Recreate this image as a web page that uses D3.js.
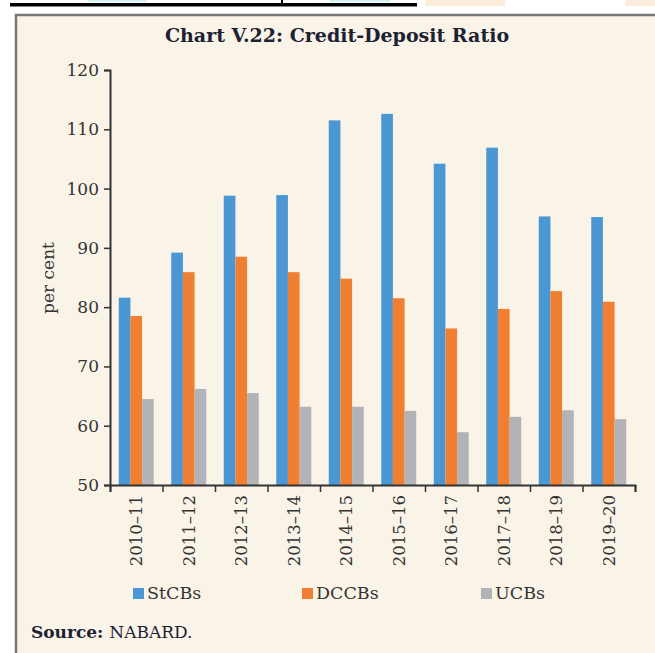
<!DOCTYPE html>
<html>
<head>
<meta charset="utf-8">
<script src="https://cdn.jsdelivr.net/npm/d3@7"></script>
<style>
  body { margin: 0; background: #fff; }
  svg { display: block; }
  text { font-family: "DejaVu Serif", serif; }
</style>
</head>
<body>
<svg width="655" height="653"></svg>
<script>
const years = ['2010-11', '2011-12', '2012-13', '2013-14', '2014-15', '2015-16', '2016-17', '2017-18', '2018-19', '2019-20'];
const stcbs = [81.6, 89.2, 98.8, 98.9, 111.5, 112.6, 104.2, 106.9, 95.3, 95.2];
const dccbs = [78.5, 85.9, 88.5, 85.9, 84.8, 81.5, 76.4, 79.7, 82.7, 80.9];
const ucbs = [64.5, 66.2, 65.5, 63.2, 63.2, 62.5, 58.9, 61.5, 62.6, 61.1];
const seriesNames = ['StCBs', 'DCCBs', 'UCBs'];
const colors = ['#4b97d3', '#f07f31', '#b2b3b7'];
const yTicks = [50, 60, 70, 80, 90, 100, 110, 120];

const svg = d3.select("svg");

// bits of the page above the chart panel
svg.append("rect").attr("x", 10).attr("y", 3).attr("width", 407).attr("height", 3.5).attr("fill", "#000");
svg.append("rect").attr("x", 281).attr("y", 0).attr("width", 2).attr("height", 5).attr("fill", "#000");
svg.append("rect").attr("x", 88).attr("y", 0).attr("width", 59).attr("height", 2).attr("fill", "#d4f3f5");
svg.append("rect").attr("x", 330).attr("y", 0).attr("width", 60).attr("height", 2).attr("fill", "#d4f3f5");
svg.append("rect").attr("x", 425).attr("y", 0).attr("width", 80).attr("height", 6).attr("fill", "#fdebdc");
svg.append("rect").attr("x", 625).attr("y", 0).attr("width", 40).attr("height", 6).attr("fill", "#fdebdc");

// panel
svg.append("rect")
  .attr("x", 16).attr("y", 15).attr("width", 660).attr("height", 660)
  .attr("fill", "#faf3e8").attr("stroke", "#777").attr("stroke-width", 2.5);

svg.append("text")
  .attr("x", 337).attr("y", 42)
  .attr("text-anchor", "middle")
  .attr("font-size", 19).attr("font-weight", "bold").attr("fill", "#1d2233")
  .text("Chart V.22: Credit-Deposit Ratio");

const yScale = d3.scaleLinear().domain([50, 120]).range([485, 70]);
const xScale = d3.scaleBand().domain(years).range([110, 635]);
const xInner = d3.scaleBand().domain(seriesNames).range([0, 35]);
const groupOffset = (xScale.bandwidth() - 35) / 2;

const table = years.map((y, i) => ({ year: y, StCBs: stcbs[i], DCCBs: dccbs[i], UCBs: ucbs[i] }));

svg.append("g")
  .selectAll("g")
  .data(table)
  .join("g")
  .attr("transform", d => `translate(${xScale(d.year) + groupOffset},0)`)
  .selectAll("rect")
  .data(d => seriesNames.map((k, j) => ({ key: k, value: d[k], j: j })))
  .join("rect")
  .attr("x", d => xInner(d.key))
  .attr("width", xInner.bandwidth())
  .attr("y", d => yScale(d.value))
  .attr("height", d => yScale(50) - yScale(d.value))
  .attr("fill", d => colors[d.j]);

// y axis
const yAxis = svg.append("g")
  .attr("transform", "translate(110,0)")
  .call(d3.axisLeft(yScale).tickValues(yTicks).tickSize(6).tickPadding(5));
yAxis.select(".domain").attr("stroke", "#333").attr("stroke-width", 2);
yAxis.selectAll(".tick line").attr("stroke", "#333").attr("stroke-width", 1.5);
yAxis.selectAll(".tick text").attr("font-family", "DejaVu Serif").attr("font-size", 17).attr("fill", "#333");

// x axis: ticks at band edges, labels at band centres
const edgeScale = d3.scaleLinear().domain([0, years.length]).range(xScale.range());
const xAxis = svg.append("g")
  .attr("transform", "translate(0,485)")
  .call(d3.axisBottom(edgeScale).ticks(years.length).tickSize(7).tickFormat(""));
xAxis.select(".domain").attr("stroke", "#333").attr("stroke-width", 2);
xAxis.selectAll(".tick line").attr("stroke", "#333").attr("stroke-width", 1.5);

svg.append("g")
  .selectAll("text")
  .data(years)
  .join("text")
  .attr("transform", d => `translate(${xScale(d) + xScale.bandwidth() / 2 + 6},495) rotate(-90)`)
  .attr("text-anchor", "end")
  .attr("font-size", 16.5).attr("fill", "#333")
  .text(d => d.replace('-', '\u2013'));

svg.append("text")
  .attr("transform", "translate(54,278) rotate(-90)")
  .attr("text-anchor", "middle")
  .attr("font-size", 17).attr("fill", "#333")
  .text("per cent");

// legend
const legendX = [133, 302, 481];
const legend = svg.append("g")
  .selectAll("g")
  .data(seriesNames)
  .join("g")
  .attr("transform", (d, i) => `translate(${legendX[i]},588)`);
legend.append("rect").attr("width", 11).attr("height", 11).attr("fill", (d, i) => colors[i]);
legend.append("text").attr("x", 14).attr("y", 11).attr("font-size", 17.5).attr("fill", "#333").text(d => d);

const src = svg.append("text").attr("x", 31).attr("y", 638).attr("font-size", 17).attr("fill", "#1d2233");
src.append("tspan").attr("font-weight", "bold").text("Source: ");
src.append("tspan").text("NABARD.");
</script>
</body>
</html>
